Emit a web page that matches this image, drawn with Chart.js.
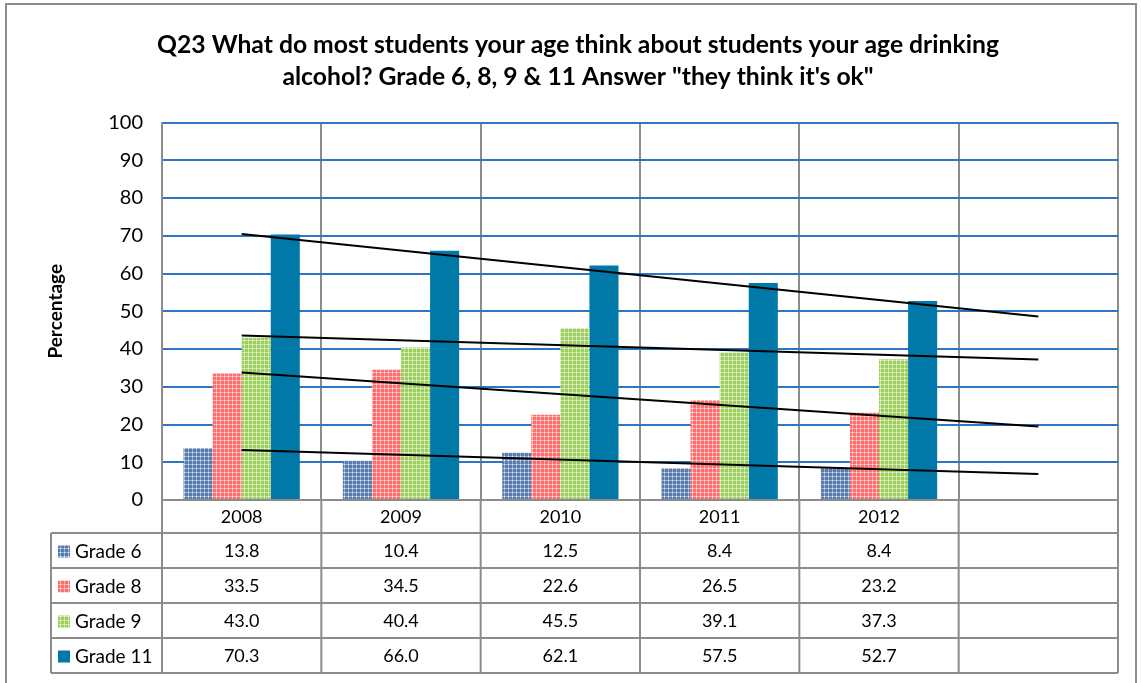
<!DOCTYPE html>
<html><head><meta charset="utf-8">
<script src="https://cdn.jsdelivr.net/npm/chart.js@4.4.0/dist/chart.umd.min.js"></script>
<style>html,body{margin:0;padding:0;background:#fff;}#wrap{width:1141px;height:683px;position:relative}</style>
</head><body><div id="wrap"><canvas id="c" width="1141" height="683"></canvas></div>
<script>
// ---- data ----
const categories = ['2008', '2009', '2010', '2011', '2012', ''];
const seriesNames = ['Grade 6', 'Grade 8', 'Grade 9', 'Grade 11'];
const grade6 = [13.8, 10.4, 12.5, 8.4, 8.4];
const grade8 = [33.5, 34.5, 22.6, 26.5, 23.2];
const grade9 = [43.0, 40.4, 45.5, 39.1, 37.3];
const grade11 = [70.3, 66.0, 62.1, 57.5, 52.7];
const yTicks = [0, 10, 20, 30, 40, 50, 60, 70, 80, 90, 100];
const titleLines = ['Q23 What do most students your age think about students your age drinking', 'alcohol? Grade 6, 8, 9 & 11 Answer "they think it\'s ok"'];
const yTitle = 'Percentage';

// ---- styles ----
const FONT = 'Lato, "Open Sans", sans-serif';
const GRID_GREY = '#8c8c8c';

function makePattern(base, light) {
  const c = document.createElement('canvas');
  c.width = 4; c.height = 4;
  const g = c.getContext('2d');
  g.fillStyle = base; g.fillRect(0, 0, 4, 4);
  g.fillStyle = light;
  g.fillRect(0, 0, 4, 1);
  g.fillRect(0, 0, 1, 4);
  g.fillStyle = 'rgba(255,255,255,0.85)';
  g.fillRect(0, 0, 1, 1);
  return g.createPattern(c, 'repeat');
}
const fills = [
  makePattern('#5a7cae', '#98afd0'),
  makePattern('#ff6e6e', '#ffadad'),
  makePattern('#9dcf60', '#c9e6a3'),
  '#0079a8'
];
const seriesData = [grade6, grade8, grade9, grade11];

// linear trend (Excel-style, forecast forward one period)
function trendLine(vals, nCats) {
  const n = vals.length;
  let sx = 0, sy = 0, sxx = 0, sxy = 0;
  vals.forEach((v, i) => { sx += i; sy += v; sxx += i * i; sxy += i * v; });
  const b = (n * sxy - sx * sy) / (n * sxx - sx * sx);
  const a = (sy - b * sx) / n;
  const out = new Array(nCats).fill(null);
  out[0] = a;
  out[nCats - 1] = a + b * (nCats - 1);
  return out;
}

const datasets = [];
seriesData.forEach((d) => {
  datasets.push({
    type: 'line', data: trendLine(d, categories.length), borderColor: '#000', borderWidth: 2,
    pointRadius: 0, spanGaps: true, order: 0
  });
});
seriesData.forEach((d, i) => {
  datasets.push({
    type: 'bar', label: seriesNames[i], data: d, backgroundColor: fills[i], borderWidth: 0,
    categoryPercentage: 0.73, barPercentage: 1.0, order: 1
  });
});

const tablePlugin = {
  id: 'tablePlugin',
  beforeDraw(chart) {
    const ctx = chart.ctx;
    ctx.save();
    ctx.fillStyle = '#fff';
    ctx.fillRect(0, 0, chart.width, chart.height);
    ctx.restore();
  },
  afterDraw(chart) {
    const ctx = chart.ctx;
    const a = chart.chartArea;
    const xs = chart.scales.x;
    const nC = categories.length;
    const cw = a.width / nC;
    const L = 51;
    const top = a.bottom;
    const hdr = 33, rowH = 35;
    const rowsY = [top, top + hdr];
    for (let r = 0; r < seriesNames.length; r++) rowsY.push(top + hdr + rowH * (r + 1));
    const bottom = rowsY[rowsY.length - 1];
    ctx.save();
    ctx.strokeStyle = GRID_GREY;
    ctx.lineWidth = 2;
    ctx.beginPath();
    ctx.moveTo(a.left, top); ctx.lineTo(a.right, top);
    for (let r = 1; r < rowsY.length; r++) { ctx.moveTo(L, rowsY[r]); ctx.lineTo(a.right, rowsY[r]); }
    ctx.moveTo(L, rowsY[1]); ctx.lineTo(L, bottom);
    for (let c = 0; c <= nC; c++) {
      const x = a.left + c * cw;
      ctx.moveTo(x, top); ctx.lineTo(x, bottom);
    }
    ctx.stroke();
    // outer chart border
    ctx.strokeRect(6, 4, 1130, 700);
    // title
    ctx.fillStyle = '#000';
    ctx.textAlign = 'center';
    ctx.textBaseline = 'middle';
    ctx.font = 'bold 24.7px ' + FONT;
    titleLines.forEach((t, i) => ctx.fillText(t, 578, 45 + i * 32));
    // table texts
    ctx.font = '18px ' + FONT;
    categories.forEach((cat, i) => {
      ctx.fillText(cat, xs.getPixelForValue(i), top + hdr / 2 + 1);
    });
    seriesData.forEach((d, r) => {
      const cy = rowsY[r + 1] + rowH / 2 + 1;
      ctx.font = '18px ' + FONT;
      d.forEach((v, i) => {
        ctx.fillText(v.toFixed(1), xs.getPixelForValue(i), cy);
      });
      ctx.fillStyle = fills[r];
      ctx.fillRect(58, cy - 6, 12, 12);
      ctx.fillStyle = '#000';
      ctx.textAlign = 'left';
      ctx.font = '19px ' + FONT;
      ctx.fillText(seriesNames[r], 75, cy);
      ctx.textAlign = 'center';
    });
    ctx.restore();
  }
};

new Chart(document.getElementById('c'), {
  data: { labels: categories, datasets },
  options: {
    responsive: false,
    animation: false,
    devicePixelRatio: 1,
    layout: { padding: { left: 0, top: 122.5, right: 23, bottom: 183 } },
    plugins: {
      legend: { display: false },
      tooltip: { enabled: false },
      title: { display: false }
    },
    scales: {
      x: {
        offset: true,
        grid: { color: GRID_GREY, lineWidth: 2, offset: true, drawTicks: false },
        border: { display: false },
        ticks: { display: false },
        afterFit(s) { s.height = 0; }
      },
      y: {
        min: 0, max: 100,
        afterBuildTicks(s) { s.ticks = yTicks.map(v => ({ value: v })); },
        grid: { color: '#2e75c4', lineWidth: 2, drawTicks: false },
        border: { display: true, color: GRID_GREY, width: 2 },
        ticks: { color: '#000', font: { family: FONT, size: 20 }, padding: 19 },
        title: { display: true, text: yTitle, color: '#000', font: { family: FONT, size: 19, weight: 'bold' }, padding: { top: 44 } },
        afterFit(s) { s.width = 162; }
      }
    }
  },
  plugins: [tablePlugin]
});
</script>
</body></html>
